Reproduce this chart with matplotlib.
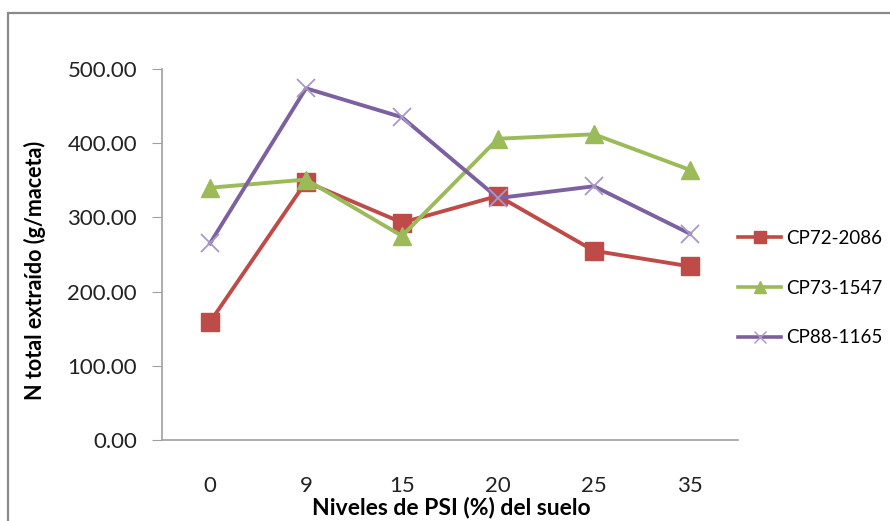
import matplotlib.pyplot as plt
from matplotlib.patches import Rectangle
from matplotlib.lines import Line2D

plt.rcParams['font.family'] = ['Lato', 'DejaVu Sans']

# --- datos ---
niveles = ["0", "9", "15", "20", "25", "35"]
cp72_2086 = [159, 348, 293, 329, 255, 234]
cp73_1547 = [340, 351, 275, 406, 412, 364]
cp88_1165 = [265, 474, 435, 326, 342, 278]
nombres = ["CP72-2086", "CP73-1547", "CP88-1165"]

rojo = "#BE4B48"
verde = "#9BBB59"
morado = "#7D60A0"

W, H = 890, 521
fig = plt.figure(figsize=(W / 100, H / 100), dpi=100)
ax = fig.add_axes([162 / W, 1 - 440 / H, 576 / W, 371 / H])

# marco exterior (gris)
fig.patches.append(Rectangle((8 / W, -0.05), 1.2, 1 - 13 / H + 0.05,
                             transform=fig.transFigure, fill=False,
                             edgecolor="#8a8a8a", linewidth=1.6))

x = list(range(len(niveles)))
ax.plot(x, cp72_2086, color=rojo, lw=2.8, marker="s", ms=13,
        mfc=rojo, mec=rojo, zorder=3)
ax.plot(x, cp73_1547, color=verde, lw=2.8, marker="^", ms=13,
        mfc=verde, mec=verde, zorder=4)
ax.plot(x, cp88_1165, color=morado, lw=2.8, marker="x", ms=13,
        mec="#A898C8", mew=1.3, zorder=5)

ax.set_xlim(-0.5, len(niveles) - 0.5)
ax.set_ylim(0, 500)
ax.set_yticks([0, 100, 200, 300, 400, 500])
ax.set_yticklabels([f"{v:.2f}" for v in [0, 100, 200, 300, 400, 500]])
ax.set_xticks(x)
ax.set_xticklabels(niveles)

for s in ["top", "right"]:
    ax.spines[s].set_visible(False)
ax.spines["left"].set_color("#a0a0a0")
ax.spines["bottom"].set_color("#a0a0a0")
ax.spines["left"].set_linewidth(1.2)
ax.spines["bottom"].set_linewidth(1.2)
ax.tick_params(axis="y", direction="out", length=7, color="#a0a0a0",
               labelsize=16, pad=11, labelcolor="#222222")
ax.tick_params(axis="x", length=0, labelsize=16, pad=26, labelcolor="#222222")

fig.text(35 / W, 1 - 270 / H, "N total extraído (g/maceta)", rotation=90,
         ha="center", va="center", fontsize=15.5, fontweight="bold")
fig.text(451 / W, 1 - 507 / H, "Niveles de PSI (%) del suelo",
         ha="center", va="center", fontsize=16.5, fontweight="bold")

handles = [
    Line2D([], [], color=rojo, lw=2.6, marker="s", ms=9, mfc=rojo, mec=rojo),
    Line2D([], [], color=verde, lw=2.6, marker="^", ms=9, mfc=verde, mec=verde),
    Line2D([], [], color=morado, lw=2.6, marker="x", ms=9, mec="#A898C8"),
]
fig.legend(handles, nombres, loc="center left",
           bbox_to_anchor=(738 / W, 1 - 288 / H), frameon=False,
           fontsize=13.5, handlelength=2.3, handletextpad=0.25,
           labelspacing=1.75, borderaxespad=0, borderpad=0)

fig.savefig("out.png", dpi=100)
